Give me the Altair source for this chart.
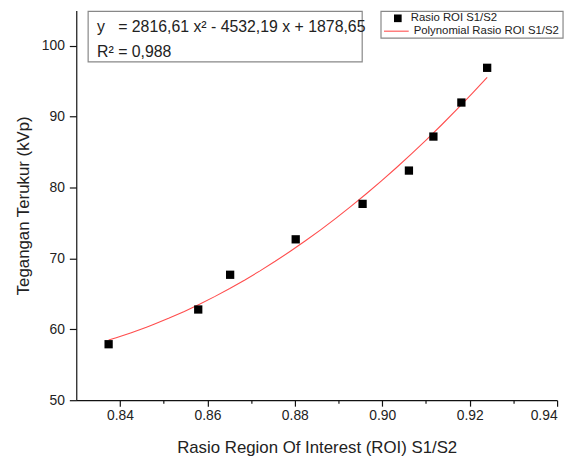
import altair as alt
import pandas as pd

# Data
ratio = [0.8374, 0.8579, 0.8652, 0.8802, 0.8955, 0.9061, 0.9117, 0.9181, 0.9240]
kvp = [57.9, 62.8, 67.7, 72.7, 77.7, 82.4, 87.2, 92.0, 96.9]

x_ticks = [0.84, 0.85, 0.86, 0.87, 0.88, 0.89, 0.90, 0.91, 0.92, 0.93, 0.94]
y_ticks = [50, 55, 60, 65, 70, 75, 80, 85, 90, 95, 100, 105]

eq_text = "y\u00a0\u00a0\u00a0= 2816,61 x² - 4532,19 x + 1878,65"
r2_text = "R² = 0,988"
legend_labels = ["Rasio ROI S1/S2", "Polynomial Rasio ROI S1/S2"]

FONT = "Liberation Sans"
TXT = "#222222"

df = pd.DataFrame({"ratio": ratio, "kvp": kvp})
one = pd.DataFrame({"k": [0]})

major_x = "round(datum.value*100) % 2 == 0"
major_y = "datum.value % 10 == 0"

x_enc = alt.X(
    "ratio:Q",
    scale=alt.Scale(domain=[0.83, 0.94], nice=False, zero=False),
    axis=alt.Axis(
        title="Rasio Region Of Interest (ROI) S1/S2",
        values=x_ticks,
        labelExpr=f"{major_x} ? format(datum.value, '.2f') : ''",
        tickSize={"condition": {"test": major_x, "value": 6}, "value": 3},
        grid=False,
        labelFontSize=14,
        labelPadding=3,
        titleFontSize=17,
        titleFontWeight="normal",
        titlePadding=17,
    ),
)
y_enc = alt.Y(
    "kvp:Q",
    scale=alt.Scale(domain=[50, 105], nice=False, zero=False),
    axis=alt.Axis(
        title="Tegangan Terukur (kVp)",
        values=y_ticks,
        labelExpr=f"{major_y} ? datum.value : ''",
        tickSize={"condition": {"test": major_y, "value": 7}, "value": 4},
        grid=False,
        labelFontSize=14,
        labelPadding=5,
        titleFontSize=17,
        titleFontWeight="normal",
        titlePadding=9,
    ),
)

fit = (
    alt.Chart(df)
    .transform_regression("ratio", "kvp", method="poly", order=2)
    .mark_line(color="#ff4d4d", strokeWidth=1.1)
    .encode(x=x_enc, y=y_enc)
)

pts = (
    alt.Chart(df)
    .mark_point(shape="square", filled=True, color="black", size=70, opacity=1)
    .encode(x="ratio:Q", y="kvp:Q")
)

# Equation box
eq_box = alt.Chart(one).mark_rect(fill="white", stroke="#888888", strokeWidth=1.2).encode(
    x=alt.value(12), x2=alt.value(289), y=alt.value(1), y2=alt.value(52)
)
eq1 = alt.Chart(one).mark_text(align="left", baseline="middle", font=FONT, fontSize=16, color=TXT).encode(
    x=alt.value(21), y=alt.value(17), text=alt.value(eq_text)
)
eq2 = alt.Chart(one).mark_text(align="left", baseline="middle", font=FONT, fontSize=16, color=TXT).encode(
    x=alt.value(21), y=alt.value(42), text=alt.value(r2_text)
)

# Legend box
lg_box = alt.Chart(one).mark_rect(fill="white", stroke="#888888", strokeWidth=1.2).encode(
    x=alt.value(308), x2=alt.value(492), y=alt.value(1), y2=alt.value(28)
)
lg_sq = alt.Chart(one).mark_point(shape="square", filled=True, color="black", size=60, opacity=1).encode(
    x=alt.value(325), y=alt.value(8)
)
lg_t1 = alt.Chart(one).mark_text(align="left", baseline="middle", font=FONT, fontSize=11.5, color=TXT).encode(
    x=alt.value(338), y=alt.value(8), text=alt.value(legend_labels[0])
)
lg_line = alt.Chart(one).mark_rule(color="#ff4d4d", strokeWidth=1.1).encode(
    x=alt.value(311), x2=alt.value(336), y=alt.value(21)
)
lg_t2 = alt.Chart(one).mark_text(align="left", baseline="middle", font=FONT, fontSize=11.5, color=TXT).encode(
    x=alt.value(341), y=alt.value(21), text=alt.value(legend_labels[1])
)

chart = (
    alt.layer(fit, pts, eq_box, eq1, eq2, lg_box, lg_sq, lg_t1, lg_line, lg_t2)
    .properties(
        width=486,
        height=394,
        autosize="none",
        padding={"left": 69, "top": 0, "right": 10, "bottom": 58},
    )
    .configure_view(stroke=None)
    .configure_axis(
        domainColor="#111111",
        tickColor="#111111",
        domainWidth=1.2,
        tickWidth=1.2,
        labelColor=TXT,
        titleColor=TXT,
        labelFont=FONT,
        titleFont=FONT,
    )
)

chart.save("out.html", embed_options={"renderer": "svg", "actions": False})
